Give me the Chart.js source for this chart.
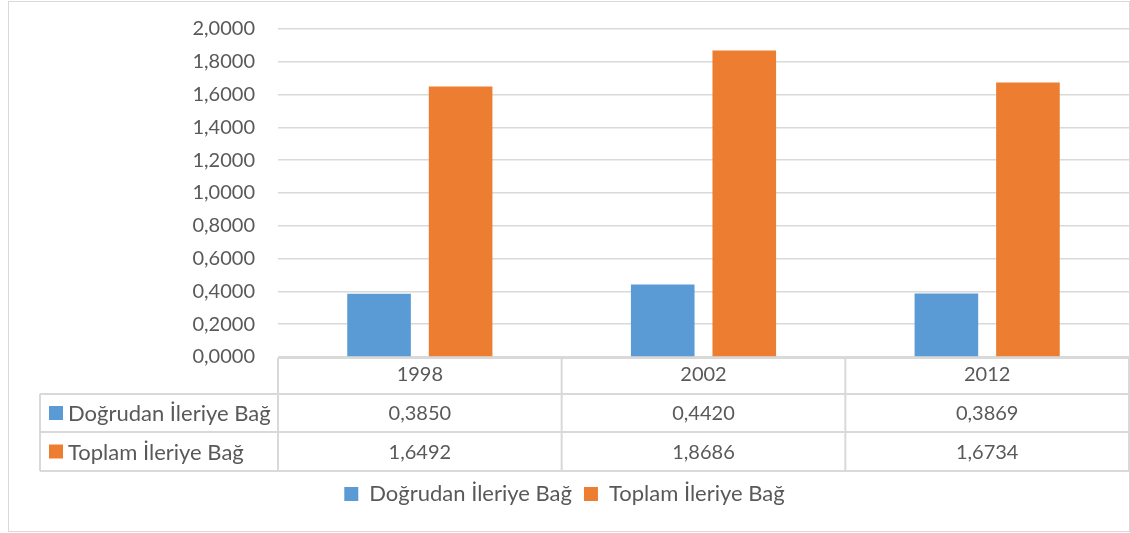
<!DOCTYPE html>
<html>
<head>
<meta charset="utf-8">
<script src="https://cdn.jsdelivr.net/npm/chart.js@4"></script>
<style>
  html, body { margin: 0; padding: 0; background: #fff; }
  #wrap { position: relative; width: 1130px; height: 533px; }
  #frame { position: absolute; left: 8px; top: 1px; width: 1120px; height: 529px; border: 1px solid #d9d9d9; }
  #chart { position: absolute; left: 0; top: 0; }
</style>
</head>
<body>
<div id="wrap">
  <div id="frame"></div>
  <canvas id="chart" width="1130" height="533"></canvas>
</div>
<script>
// bar chart + data table underneath (excel style)

const years = ['1998', '2002', '2012'];
const dogrudan = [0.3850, 0.4420, 0.3869];
const toplam = [1.6492, 1.8686, 1.6734];
const seriesNames = ['Doğrudan İleriye Bağ', 'Toplam İleriye Bağ'];
const colors = ['#5B9BD5', '#ED7D31'];

const textColor = '#595959';
const lineColor = '#d9d9d9';
const fontFamily = 'Lato, "Open Sans", sans-serif';

function fmt(v) {
    return v.toFixed(4).replace('.', ',');
}

// draws the table rows below the x axis
const dataTable = {
    id: 'dataTable',
    afterDraw(chart) {
        const c = chart.ctx;
        const area = chart.chartArea;
        const left = area.left, right = area.right;
        const colW = (right - left) / years.length;
        const tableLeft = 40;
        const top = area.bottom + 1;
        const rows = [top, top + 36, top + 74, top + 113];
        const values = [dogrudan, toplam];

        c.save();
        c.strokeStyle = lineColor;
        c.lineWidth = 2;
        c.beginPath();
        // header row top
        c.moveTo(left, rows[0]); c.lineTo(right, rows[0]);
        for (let r = 1; r < rows.length; r++) {
            c.moveTo(tableLeft, rows[r]); c.lineTo(right, rows[r]);
        }
        c.moveTo(tableLeft, rows[1]); c.lineTo(tableLeft, rows[3]);
        for (let i = 0; i <= years.length; i++) {
            const x = Math.min(left + i * colW, right);
            c.moveTo(x, rows[0]); c.lineTo(x, rows[3]);
        }
        c.stroke();

        c.textBaseline = 'middle';
        for (let s = 0; s < 2; s++) {
            const cy = (rows[s + 1] + rows[s + 2]) / 2;
            c.fillStyle = colors[s];
            c.fillRect(49, cy - 7, 14, 14);
            c.fillStyle = textColor;
            c.textAlign = 'left';
            c.font = '22px ' + fontFamily;
            c.fillText(seriesNames[s], 68, cy + 1);
            c.textAlign = 'center';
            c.font = '20px ' + fontFamily;
            for (let i = 0; i < years.length; i++) {
                c.fillText(fmt(values[s][i]), chart.scales.x.getPixelForValue(i), cy + 1);
            }
        }
        c.restore();
    }
};

const graph = new Chart(document.getElementById('chart'), {
    type: 'bar',
    data: {
        labels: years,
        datasets: [
            {
                label: seriesNames[0],
                data: dogrudan,
                backgroundColor: colors[0],
                barPercentage: 0.78,
                categoryPercentage: 0.575
            },
            {
                label: seriesNames[1],
                data: toplam,
                backgroundColor: colors[1],
                barPercentage: 0.78,
                categoryPercentage: 0.575
            }
        ]
    },
    options: {
        responsive: false,
        animation: false,
        layout: {
            padding: { left: 0, right: 1, top: 29, bottom: 18 }
        },
        scales: {
            y: {
                min: 0,
                max: 2,
                ticks: {
                    stepSize: 0.2,
                    padding: 23,
                    color: textColor,
                    font: { family: fontFamily, size: 20 },
                    callback: (v) => fmt(v)
                },
                grid: { color: lineColor, lineWidth: 1.5, drawTicks: false },
                border: { display: false },
                afterFit(scale) {
                    scale.width = 278;
                    scale.paddingTop = 0;
                    scale.paddingBottom = 0;
                }
            },
            x: {
                ticks: {
                    padding: 6,
                    color: textColor,
                    font: { family: fontFamily, size: 20 }
                },
                grid: { display: false, drawTicks: false },
                border: { display: false },
                afterFit(scale) { scale.height = 114; }
            }
        },
        plugins: {
            legend: {
                position: 'bottom',
                labels: {
                    boxWidth: 14,
                    boxHeight: 14,
                    padding: 12,
                    color: textColor,
                    font: { family: fontFamily, size: 22 }
                }
            },
            tooltip: { enabled: false }
        }
    },
    plugins: [dataTable]
});
</script>
</body>
</html>
